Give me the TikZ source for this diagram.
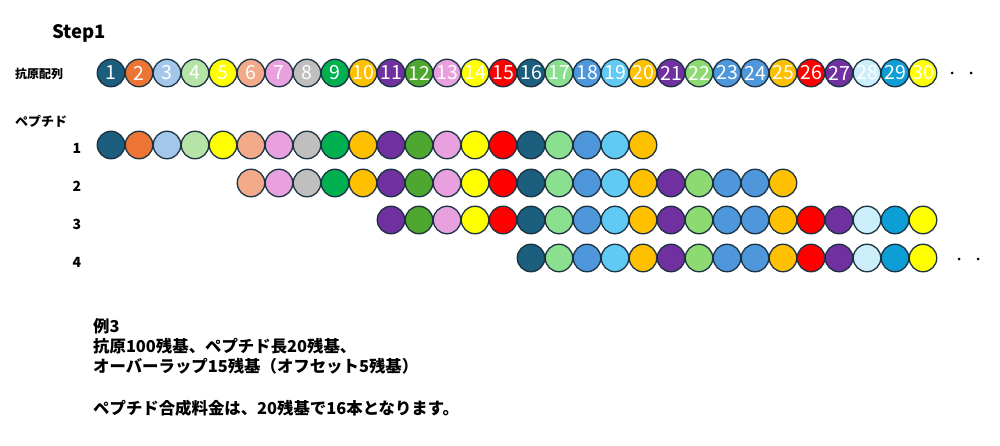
\documentclass[tikz,border=0pt]{standalone}
\usepackage{fontspec}
\setmainfont{Noto Sans CJK JP}
\newfontfamily\jp{Noto Sans CJK JP}
\definecolor{c1}{HTML}{1B5E7D}
\definecolor{c2}{HTML}{EC7533}
\definecolor{c3}{HTML}{A3C7EB}
\definecolor{c4}{HTML}{B5E4A6}
\definecolor{c5}{HTML}{FFFF00}
\definecolor{c6}{HTML}{F3AA88}
\definecolor{c7}{HTML}{E8A0DE}
\definecolor{c8}{HTML}{BFBFBF}
\definecolor{c9}{HTML}{00B050}
\definecolor{c10}{HTML}{FFC000}
\definecolor{c11}{HTML}{7030A0}
\definecolor{c12}{HTML}{4EA72E}
\definecolor{c13}{HTML}{E8A0DE}
\definecolor{c14}{HTML}{FFFF00}
\definecolor{c15}{HTML}{FF0000}
\definecolor{c16}{HTML}{1B5E7D}
\definecolor{c17}{HTML}{8BE08F}
\definecolor{c18}{HTML}{4F97DB}
\definecolor{c19}{HTML}{60CAF5}
\definecolor{c20}{HTML}{FFC000}
\definecolor{c21}{HTML}{7030A0}
\definecolor{c22}{HTML}{8EDA72}
\definecolor{c23}{HTML}{4F97DB}
\definecolor{c24}{HTML}{4F97DB}
\definecolor{c25}{HTML}{FFC000}
\definecolor{c26}{HTML}{FF0000}
\definecolor{c27}{HTML}{7030A0}
\definecolor{c28}{HTML}{CCEEFA}
\definecolor{c29}{HTML}{0E9ED6}
\definecolor{c30}{HTML}{FFFF00}
\definecolor{edge}{HTML}{1A3141}
\begin{document}
\begin{tikzpicture}[x=1pt,y=-1pt,
  ball/.style={circle,draw=edge,line width=1.3pt,minimum size=27.5pt,inner sep=0pt},
  num/.style={text=white,font=\jp\fontsize{19.5}{19.5}\selectfont},
  lab/.style={font=\jp\bfseries\fontsize{14}{14}\selectfont},
  dotmark/.style={circle,fill=black,inner sep=0pt,minimum size=3pt}]
\useasboundingbox (0,0) rectangle (1000,446);
\node[font=\jp\bfseries\fontsize{18.5}{18.5}\selectfont,anchor=west,inner sep=0pt] (title) at (52,33) {Step1};
\node[font=\jp\bfseries\fontsize{12}{12}\selectfont,anchor=west,inner sep=0pt] (antigen) at (15,74) {抗原配列};
\node[font=\jp\bfseries\fontsize{13}{13}\selectfont,anchor=west,inner sep=0pt] (pep) at (15,121) {ペプチド};
\foreach \i in {1,...,30} {
  \node[ball,fill=c\i,num] (a\i) at ({111+28*(\i-1)},73) {\i};
}
\node[dotmark] (ad1) at (952,73) {};
\node[dotmark] (ad2) at (971,73) {};
\foreach \k/\y/\e in {1/145/20,2/183/25,3/220/30,4/258/30} {
  \pgfmathtruncatemacro\s{5*(\k-1)+1}
  \foreach \j in {\s,...,\e} {
    \node[ball,fill=c\j] (p\k-\j) at ({111+28*(\j-1)},\y) {};
  }
}
\node[lab] (n1) at (77,148) {1};
\node[lab] (n2) at (77,186) {2};
\node[lab] (n3) at (77,224) {3};
\node[lab] (n4) at (77,262) {4};
\node[dotmark] (pd1) at (959,259) {};
\node[dotmark] (pd2) at (978,259) {};
\node[font=\jp\bfseries\fontsize{16.4}{20}\selectfont,anchor=north west,align=left,inner sep=0pt] (text) at (93,318)
{例3\\抗原100残基、ペプチド長20残基、\\オーバーラップ15残基（オフセット5残基）\\[22pt]ペプチド合成料金は、20残基で16本となります。};
\end{tikzpicture}
\end{document}
